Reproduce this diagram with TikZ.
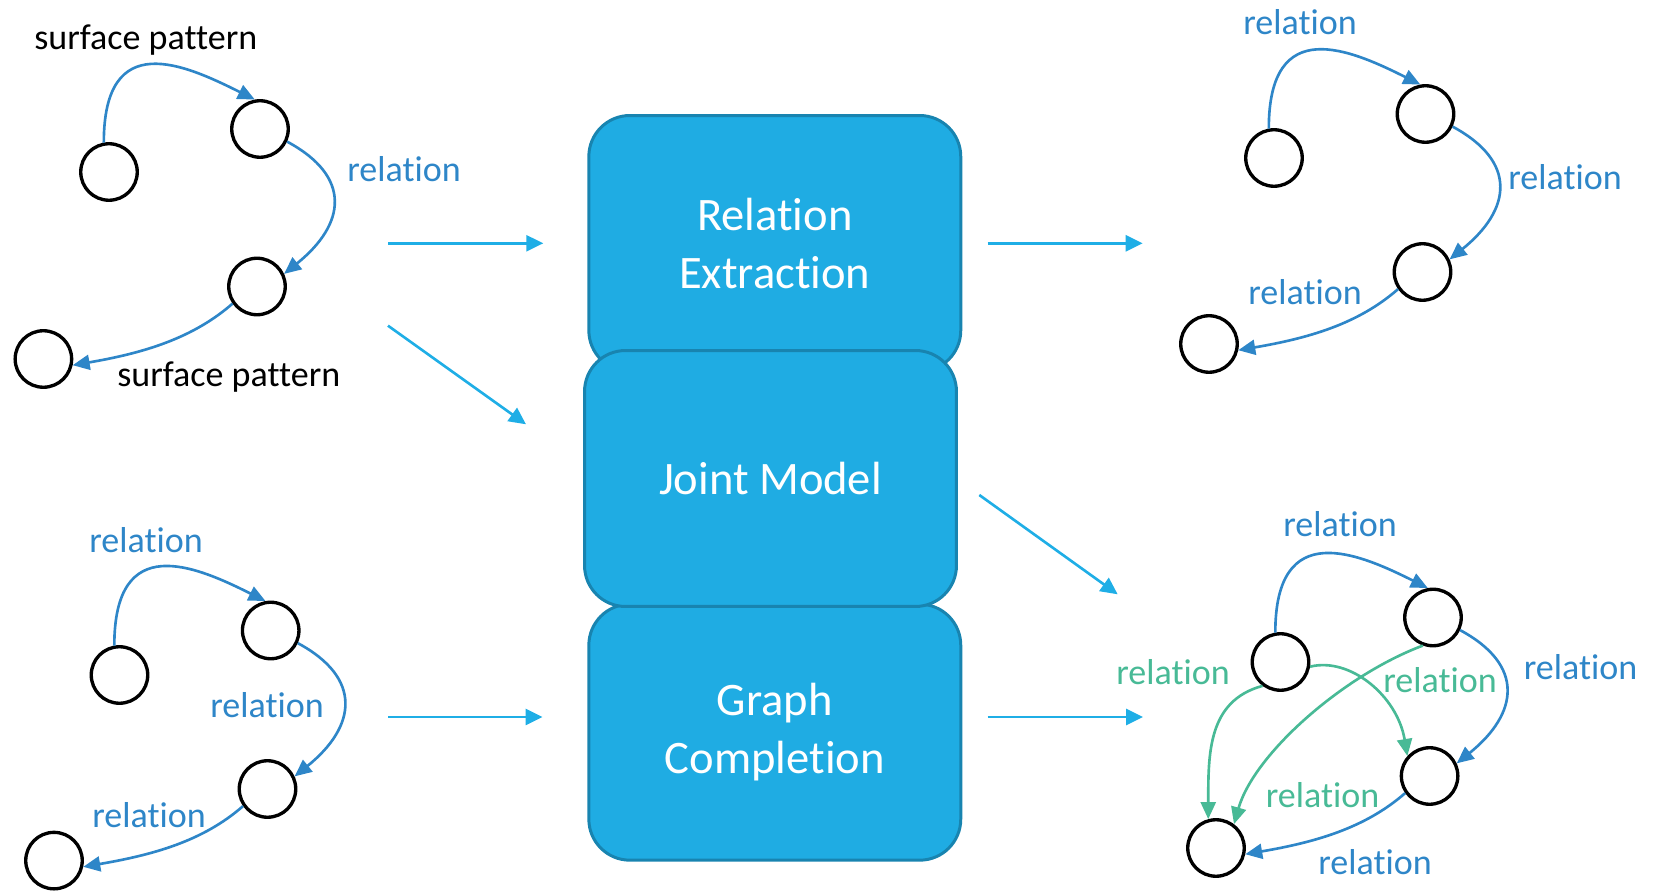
\documentclass[tikz,border=0pt]{standalone}
\usepackage{fontspec}
\setmainfont{Carlito}[Ligatures=NoCommon]
\usetikzlibrary{arrows.meta}
\definecolor{relblue}{RGB}{46,134,200}
\definecolor{relgreen}{RGB}{72,186,150}
\definecolor{flowblue}{RGB}{31,174,230}
\definecolor{boxfill}{RGB}{31,172,227}
\definecolor{boxline}{RGB}{24,132,176}

\begin{document}
\begin{tikzpicture}[x=0.02cm, y=0.02cm,
    entity/.style={circle, draw=black, line width=1.9pt, minimum size=1.13cm, inner sep=0pt},
    rel/.style={relblue, line width=1.5pt, -{Triangle[length=0.34cm, width=0.3cm]}},
    relg/.style={rel, relgreen},
    flow/.style={flowblue, line width=1.5pt, -{Triangle[length=0.34cm, width=0.32cm]}},
    stage/.style={draw=boxline, fill=boxfill, line width=1.7pt, rounded corners=0.82cm,
        minimum width=7.44cm, minimum height=5.12cm, text=white, align=center,
        font=\fontsize{26.5}{33.1}\selectfont},
    lbl/.style={anchor=base west, inner sep=0pt, font=\fontsize{20.5}{24}\selectfont}]
    \useasboundingbox (0,0) rectangle (1658,-891);

    % Middle stages
    \node[stage] (re) at (774.8,-243.5) {Relation\\Extraction};
    \node[stage] (gc) at (774.8,-732.2) {Graph\\Completion};
    \node[stage] (jm) at (770.5,-478.5) {Joint Model};

    % Flow arrows
    \coordinate (f1s) at (388,-243.3);   \coordinate (f1e) at (543.3,-243.3);
    \coordinate (f2s) at (388,-325.7);   \coordinate (f2e) at (526,-424.3);
    \coordinate (f3s) at (388,-717);     \coordinate (f3e) at (542.5,-717);
    \coordinate (f4s) at (987.5,-243.3); \coordinate (f4e) at (1142.7,-243.3);
    \coordinate (f5s) at (979.3,-495);   \coordinate (f5e) at (1117.7,-594.3);
    \coordinate (f6s) at (987.5,-717);   \coordinate (f6e) at (1143,-717);
    \draw[flow] (f1s) -- (f1e);
    \draw[flow] (f2s) -- (f2e);
    \draw[flow] (f3s) -- (f3e);
    \draw[flow] (f4s) -- (f4e);
    \draw[flow] (f5s) -- (f5e);
    \draw[flow] (f6s) -- (f6e);

    % Input graph (top left)
    \node[entity] (a1) at (109,-172) {};
    \node[entity] (b1) at (260,-129) {};
    \node[entity] (c1) at (257,-286.5) {};
    \node[entity] (d1) at (43.4,-359) {};
    \draw[rel] (a1.100) .. controls +(0,115) and +(-70,35) .. (b1.100);
    \draw[rel] (b1.-25) .. controls +(65,-35) and +(62,50) .. (c1.25);
    \draw[rel] (c1.215) .. controls +(-40,-35) and +(70,12) .. (d1.-12);
    \node[lbl] (sp1) at (34,-50) {surface pattern};
    \node[lbl, relblue] (r1) at (347,-182) {relation};
    \node[lbl] (sp2) at (117,-387) {surface pattern};

    % Extracted graph (top right)
    \node[entity] (a2) at (1274,-158) {};
    \node[entity] (b2) at (1425.5,-114) {};
    \node[entity] (c2) at (1422.5,-272) {};
    \node[entity] (d2) at (1209,-344) {};
    \draw[rel] (a2.100) .. controls +(0,115) and +(-70,35) .. (b2.100);
    \draw[rel] (b2.-25) .. controls +(65,-35) and +(62,50) .. (c2.25);
    \draw[rel] (c2.215) .. controls +(-40,-35) and +(70,12) .. (d2.-12);
    \node[lbl, relblue] (r2a) at (1243,-35) {relation};
    \node[lbl, relblue] (r2b) at (1508,-190) {relation};
    \node[lbl, relblue] (r2c) at (1248,-305) {relation};

    % Input graph (bottom left)
    \node[entity] (a3) at (119.5,-675) {};
    \node[entity] (b3) at (270.7,-630.5) {};
    \node[entity] (c3) at (267.5,-789) {};
    \node[entity] (d3) at (54,-860.6) {};
    \draw[rel] (a3.100) .. controls +(0,115) and +(-70,35) .. (b3.100);
    \draw[rel] (b3.-25) .. controls +(65,-35) and +(62,50) .. (c3.25);
    \draw[rel] (c3.215) .. controls +(-40,-35) and +(70,12) .. (d3.-12);
    \node[lbl, relblue] (r3a) at (89,-553) {relation};
    \node[lbl, relblue] (r3b) at (210,-718) {relation};
    \node[lbl, relblue] (r3c) at (92,-827) {relation};

    % Completed graph (bottom right)
    \node[entity] (a4) at (1280.5,-662) {};
    \node[entity] (b4) at (1433,-617.5) {};
    \node[entity] (c4) at (1429.6,-776) {};
    \node[entity] (d4) at (1216,-848) {};
    \draw[rel] (a4.100) .. controls +(0,115) and +(-70,35) .. (b4.100);
    \draw[rel] (b4.-25) .. controls +(65,-35) and +(62,50) .. (c4.25);
    \draw[rel] (c4.215) .. controls +(-40,-35) and +(70,12) .. (d4.-12);
    \draw[relg] (a4.233) .. controls +(-55,-15) and +(0,65) .. (d4.105);
    \draw[relg] (a4.-9) .. controls +(40,10) and +(-10,60) .. (c4.138);
    \draw[relg] (b4.250) .. controls +(-80,-30) and +(20,70) .. (d4.53);
    \node[lbl, relblue] (r4a) at (1283,-537) {relation};
    \node[lbl, relblue] (r4b) at (1523.5,-680) {relation};
    \node[lbl, relblue] (r4c) at (1318,-875) {relation};
    \node[lbl, relgreen] (r4d) at (1116,-685) {relation};
    \node[lbl, relgreen] (r4e) at (1383,-693) {relation};
    \node[lbl, relgreen] (r4f) at (1265.5,-808) {relation};
\end{tikzpicture}
\end{document}
